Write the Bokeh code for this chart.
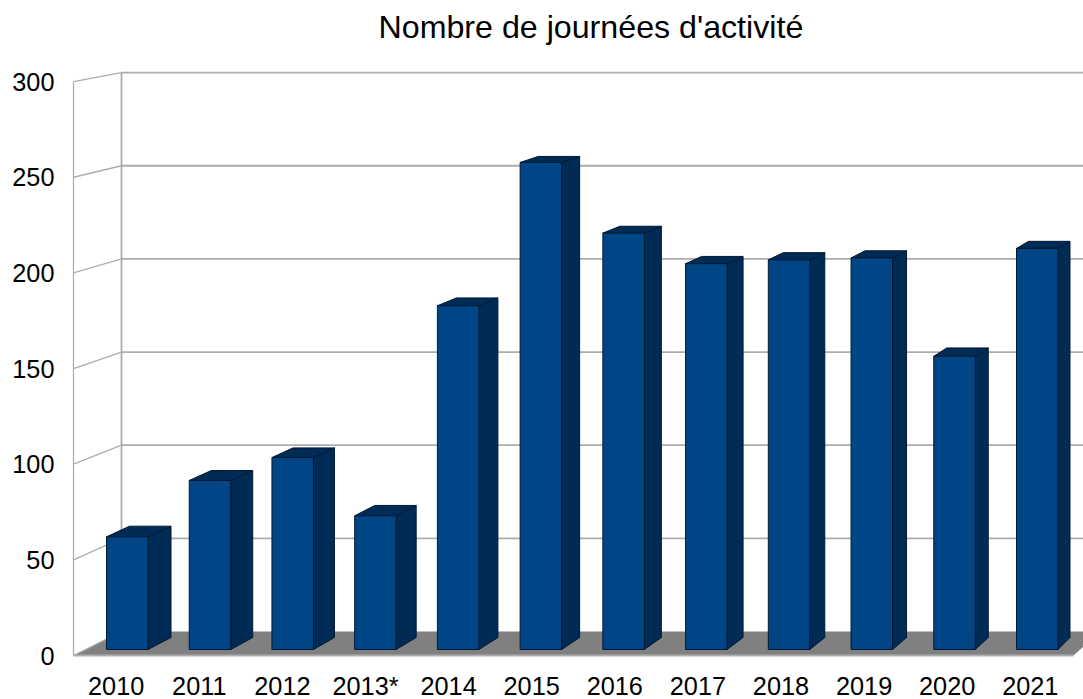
from bokeh.embed import file_html
from bokeh.models import FixedTicker, Range1d
from bokeh.plotting import figure
from bokeh.resources import INLINE

# ---- data ----
categories = ["2010", "2011", "2012", "2013*", "2014", "2015", "2016", "2017", "2018", "2019", "2020", "2021"]
values = [59, 88.5, 100.5, 70, 180, 255, 218, 202, 204, 205, 153.5, 210]
y_ticks = [0, 50, 100, 150, 200, 250, 300]
title_text = "Nombre de journées d'activité"

# ---- layout (pixels of the page) ----
W, H = 1083, 699
FRAME_L, FRAME_R, FRAME_T, FRAME_B = 70, 1083, 50, 699
Y0_PX, PX_PER_VAL = 655.0, 1.913       # front axis plane
LABEL0_PX, PX_PER_CAT = 115.7, 83.1    # category tick positions


def xu(px):
    return (px - LABEL0_PX) / PX_PER_CAT


def yu(py):
    return (Y0_PX - py) / PX_PER_VAL


dxu = 1 / PX_PER_CAT
dyu = 1 / PX_PER_VAL

p = figure(
    width=W, height=H, output_backend="svg", toolbar_location=None,
    x_range=Range1d(xu(FRAME_L), xu(FRAME_R)), y_range=Range1d(yu(FRAME_B), yu(FRAME_T)),
    min_border_left=FRAME_L, min_border_right=0,
    min_border_top=FRAME_T, min_border_bottom=0,
    outline_line_color=None, background_fill_color="white", border_fill_color="white",
)
p.grid.visible = False

# title
p.title.text = title_text
p.title.align = "left"
p.title.offset = 308
p.title.text_font = "Liberation Sans"
p.title.text_font_size = "32.2px"
p.title.text_font_style = "normal"
p.title.text_color = "#000000"
p.title.standoff = 11

# real axes carry the labels
for ax in (p.xaxis[0], p.yaxis[0]):
    ax.axis_line_color = None
    ax.major_tick_line_color = None
    ax.minor_tick_line_color = None
    ax.major_label_text_font = "Liberation Sans"
    ax.major_label_text_font_size = "25.3px"
    ax.major_label_text_color = "#000000"
p.xaxis[0].ticker = FixedTicker(ticks=list(range(len(categories))))
p.xaxis[0].major_label_overrides = {i: c for i, c in enumerate(categories)}
p.xaxis[0].major_label_standoff = 2
p.xaxis[0].fixed_location = yu(663)
p.yaxis[0].ticker = FixedTicker(ticks=y_ticks)
p.yaxis[0].major_label_standoff = 10


def back_y(v):
    return yu(631) + v * (1.863 / PX_PER_VAL)


# floor
GRID = "#adadad"
GRID_W = 1.8
back_l, front_l = xu(121), xu(73)
p.patch([front_l, back_l, xu(1100), xu(1073)], [0, back_y(0), back_y(0), 0],
        fill_color="#808080", line_color=None)
p.line([front_l, xu(1073)], [0, 0], line_color=GRID, line_width=GRID_W)

# walls
top = y_ticks[-1]
p.line([front_l, front_l], [0, top], line_color=GRID, line_width=1.3)
p.line([back_l, back_l], [back_y(0), back_y(top)], line_color=GRID, line_width=GRID_W)
for t in y_ticks:
    p.line([front_l, back_l], [t, back_y(t)], line_color=GRID, line_width=1.3)
    if t:
        p.line([back_l, xu(FRAME_R)], [back_y(t), back_y(t)], line_color=GRID, line_width=GRID_W)

# bars
FRONT, SIDE, EDGE = "#004586", "#002b54", "#001a33"
SLOT, OFFSET, BAR_W = 0.9955, (106 - LABEL0_PX) / PX_PER_CAT, 41.5 / PX_PER_CAT
BASE = (Y0_PX - 649) / PX_PER_VAL
V_SCALE = 1.91 / PX_PER_VAL

lefts = [OFFSET + SLOT * i for i in range(len(values))]
rights = [l + BAR_W for l in lefts]
tops = [BASE + v * V_SCALE for v in values]
depth_x = [(23 - i) * dxu for i in range(len(values))]
depth_y = [(12 - 0.0235 * v) * dyu for v in values]
depth_y0 = 12 * dyu

p.patches(
    xs=[[r, r + dx, r + dx, r] for r, dx in zip(rights, depth_x)],
    ys=[[BASE, BASE + depth_y0, t + dy, t] for t, dy in zip(tops, depth_y)],
    fill_color=SIDE, line_color=EDGE, line_width=1,
)
p.patches(
    xs=[[l, l + dx, r + dx, r] for l, r, dx in zip(lefts, rights, depth_x)],
    ys=[[t, t + dy, t + dy, t] for t, dy in zip(tops, depth_y)],
    fill_color=SIDE, line_color=EDGE, line_width=1,
)
p.quad(left=lefts, right=rights, bottom=BASE, top=tops,
       fill_color=FRONT, line_color=EDGE, line_width=1)

open("out.html", "w").write(file_html(p, INLINE))
